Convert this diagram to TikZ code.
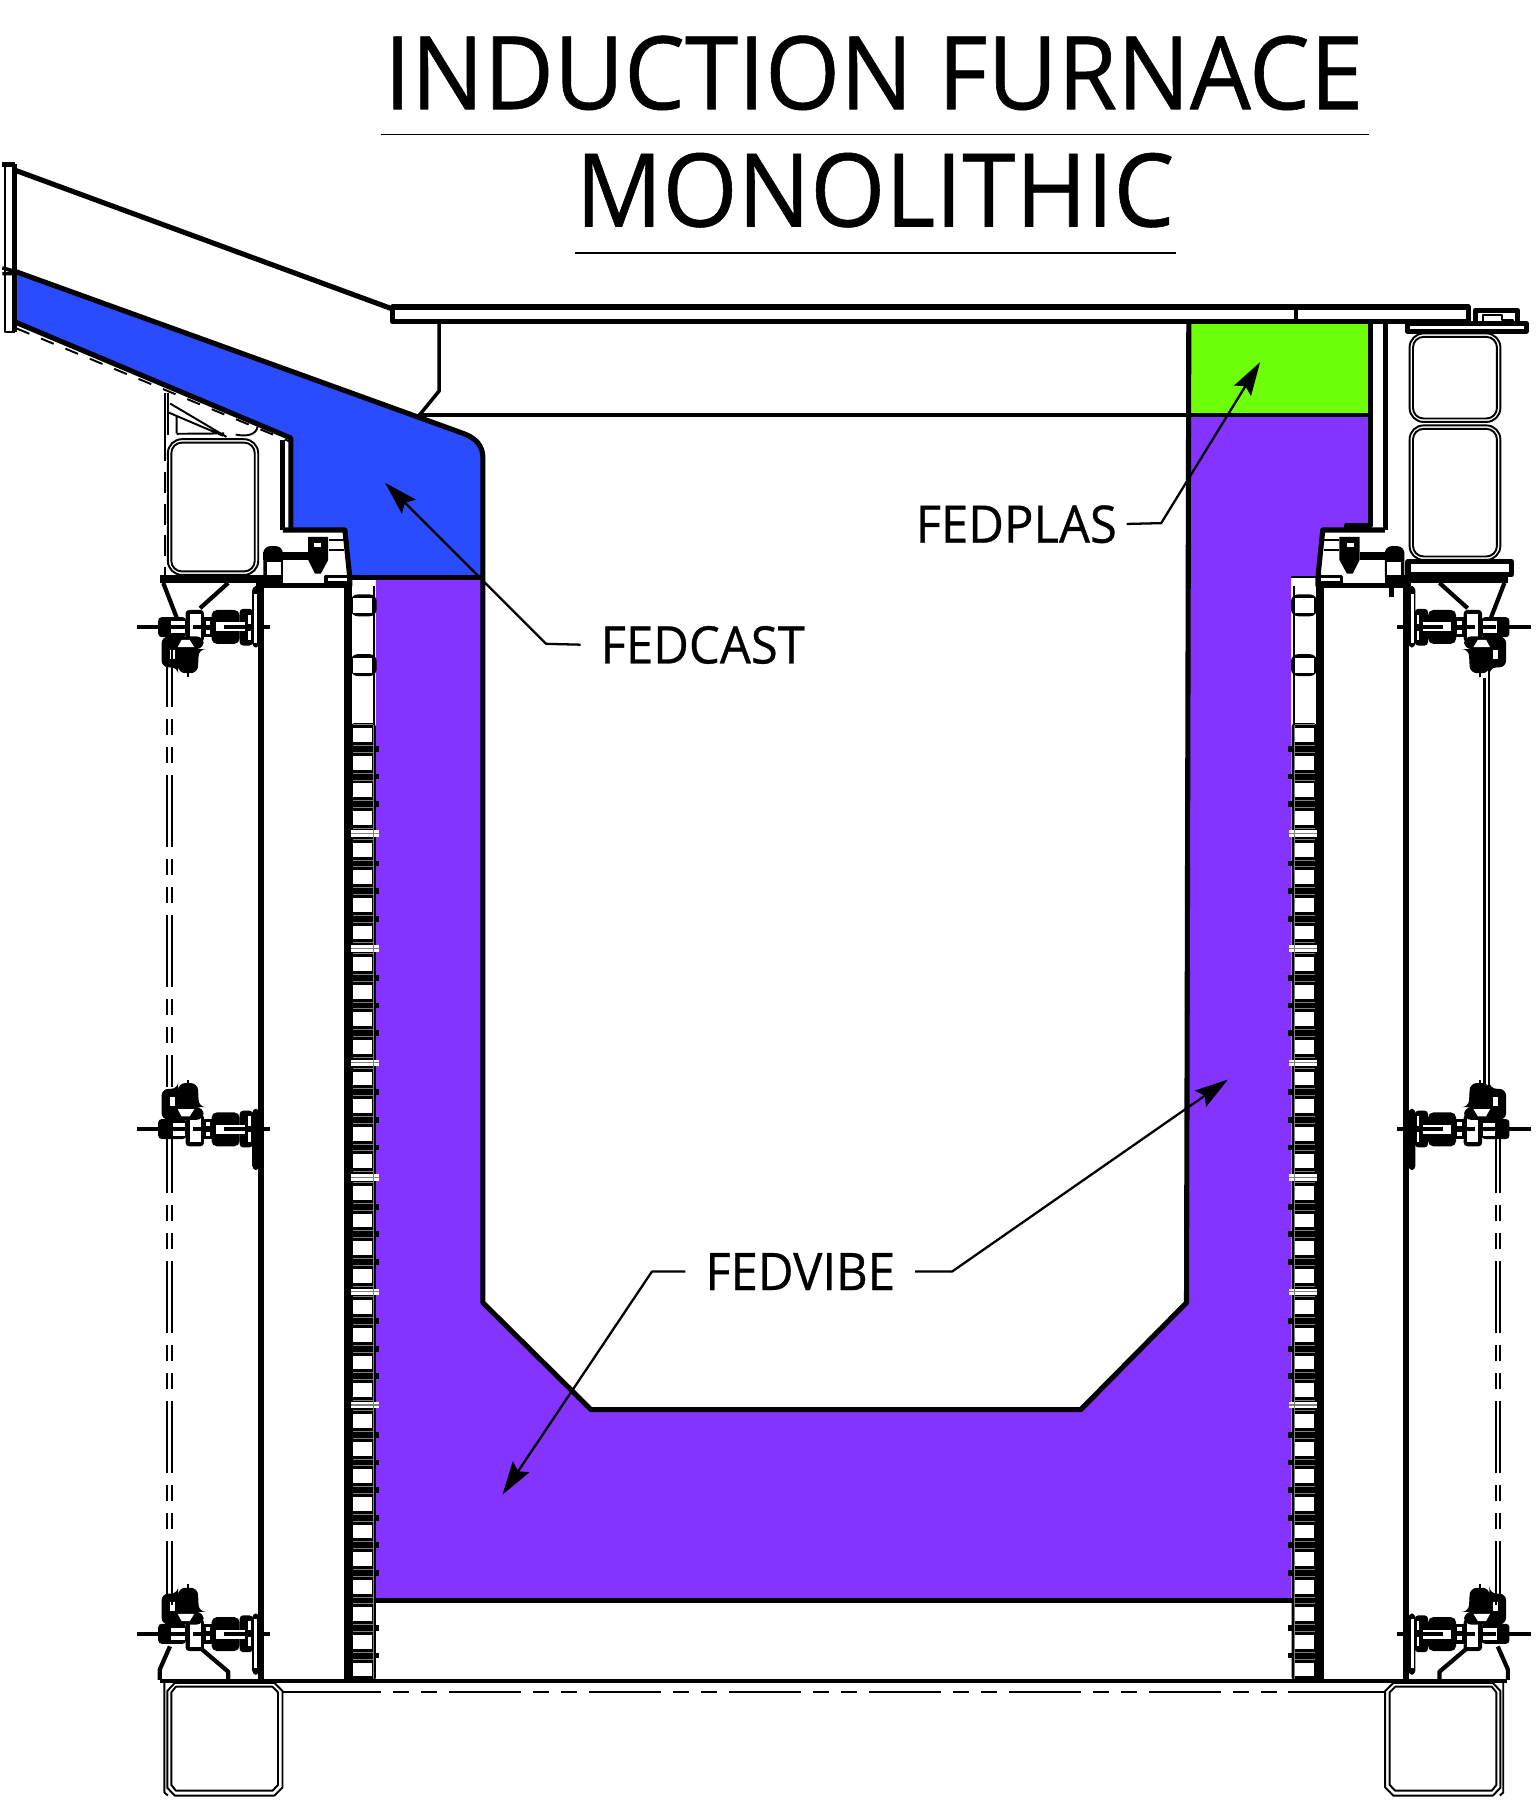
\documentclass[tikz,border=0pt]{standalone}
\usepackage{fontspec}
\setmainfont{Open Sans}[FakeStretch=0.948,FakeBold=0.55]
\usetikzlibrary{arrows.meta}
\definecolor{castblue}{HTML}{2B4BFF}
\definecolor{vibepurple}{HTML}{8533FF}
\definecolor{plasgreen}{HTML}{6EFF0A}
\newcommand{\coilcell}[2]{
  \fill[white] (307.3,#1) rectangle (323.8,#1+12);
  \draw[gray,line width=0.25pt] (307,#1-3) -- (324,#1-3) (307,#1+15) -- (324,#1+15);
  \ifnum#2>0 \fill (326,#1+15.5) rectangle (330,#1+20.5); \fi
}
\tikzset{
  heavy/.style={line width=1.45pt},
  medium/.style={line width=1pt},
  fine/.style={line width=0.55pt},
  leader/.style={line width=0.65pt},
  tipline/.style={leader,-{Stealth[length=9.5pt,width=5.6pt,inset=1.5pt]}},
  titletext/.style={font=\fontsize{28.9}{30}\selectfont,inner sep=0pt,anchor=base},
  labeltext/.style={font=\fontsize{14.7}{16}\selectfont,inner ysep=0pt,inner xsep=5.5pt,text depth=0pt},
  framedash/.style={fine,dash pattern=on 20.4pt off 3.4pt on 4.6pt off 3.4pt on 4.6pt off 3.4pt},
  clampunit/.pic={
    \draw[medium] (-109,0) -- (7,0);
    \draw[fill=black,rounded corners=1pt] (-8,-17) rectangle (-3,35);
    \fill[rounded corners=1pt] (-90.4,-8.7) rectangle (-66,8.7);
    \fill[rounded corners=1pt] (-66.6,-13) rectangle (-50.6,15);
    \fill (-51,-8.7) rectangle (-43,8.7);
    \fill[rounded corners=1.5pt] (-44,-14.5) rectangle (-19.6,15);
    \fill[rounded corners=1pt] (-19.6,-16) rectangle (-8,16);
    \fill[white] (-79.3,-5.2) rectangle (-67,5.8);
    \fill[white] (-62.8,-10) rectangle (-53.5,11.6);
    \fill[white] (-49,-5.8) rectangle (-45,-2.3);
    \fill[white] (-49,2.3) rectangle (-45,5.8);
    \fill[white] (-39.7,-3.5) rectangle (-15,4.3);
    \fill[white] (-12,-11) rectangle (-10,-3);
    \fill[white] (-12,3) rectangle (-10,11);
    \draw[medium] (-79,0) -- (-67,0) (-60,0) -- (-53,0) (-33,0) -- (-13,0);
    \fill[rounded corners=2pt] (-87.5,-8) -- (-87.5,-35) -- (-73,-35) -- (-73,-40) -- (-56,-40) -- (-55,-19) -- (-51,-19) -- (-51,-8) -- cycle;
    \fill (-65.5,-43) rectangle (-64,-38);
    \fill[white] (-80,-27.5) rectangle (-76,-20);
    \fill[white] (-73.5,-17.4) -- (-59,-17.4) -- (-63,-11) -- (-70,-11) -- cycle;
  },
  topbolt/.pic={
    \draw[heavy] (246,461) -- (300,461) -- (304.3,503) -- (304.3,510);
    \fill (268,467) -- (285.5,467) -- (285.5,487) -- (279,499) -- (274,499) -- (268,487) -- cycle;
    \fill[white] (273,472) rectangle (279,476);
    \draw[fine] (286,469.5) -- (299,469.5) (286,478) -- (299,478);
    \fill (229,480) rectangle (268,487);
    \fill[rounded corners=2pt] (229,475) rectangle (246,507);
    \fill[white] (232,488.4) rectangle (244,500);
    \fill (139,500) rectangle (246,507);
    \fill (223,507) rectangle (305,511);
    \draw[medium] (283.5,501.5) rectangle (303,507);
    \draw[line width=1.2pt] (142,507) -- (153.6,537) (198.5,507) -- (174,529);
  },
  baseunit/.pic={
    \draw[line width=1.2pt] (139,1461) -- (139,1452) -- (147.8,1432) (198.5,1461) -- (198.5,1454) -- (175,1434);
    \draw[fine] (143,1463) -- (143,1559) -- (146,1561.7);
    \draw[fine] (152,1463.8) -- (238.7,1463.8) -- (245.7,1470.8) -- (245.7,1554.7) -- (238.7,1561.7) -- (152,1561.7) -- (145.5,1555) -- (145.5,1470.8) -- cycle;
    \draw[fine] (153,1467) -- (237,1467) -- (241.8,1472) -- (241.8,1552.5) -- (237,1557.5) -- (153,1557.5) -- (149,1552.5) -- (149,1472) -- cycle;
  },
  coilcolumn/.pic={
    \fill (299,507) rectangle (306,1462);
    \draw[fine] (325.3,510) -- (325.3,630);
    \fill[rounded corners=2pt] (305,517) rectangle (327.6,536);
    \fill[rounded corners=2pt] (305,569) rectangle (327.6,588);
    \fill[white] (307.3,520.3) rectangle (323.8,533.4);
    \fill[white] (307.3,572.5) rectangle (323.8,585.6);
    \fill[rounded corners=1pt] (305,629) rectangle (327,1462);
    \foreach \g in {633.4,733,832.5,932,1031.5,1131} {
      \foreach \k in {0,1,2,3} {
        \pgfmathsetmacro\celly{\g+24*\k}
        \pgfmathtruncatemacro\celltab{3-\k}
        \coilcell{\celly}{\celltab}
      }
    }
    \foreach \k in {0,...,9} {
      \pgfmathsetmacro\celly{1230+24*\k}
      \pgfmathtruncatemacro\celltab{9-\k}
      \coilcell{\celly}{\celltab}
    }
    \foreach \b in {725,825,924.5,1024,1123.5,1222} {
      \fill[white] (305,\b-2.8) rectangle (329.5,\b+2.8);
      \draw[gray,line width=0.3pt] (305,\b) -- (329.5,\b);
    }
    \draw[gray,line width=0.25pt] (325,631) -- (325,1460);
  },
}
\begin{document}
\begin{tikzpicture}[line cap=butt,line join=round,x=0.011497cm,y=-0.011497cm]
\useasboundingbox (0,0) rectangle (1336,1565.6);
\fill[castblue] (13,236) -- (403,377) .. controls (414,381) and (420,388) .. (420,398) -- (420,502) -- (304,502) -- (300,461) -- (253,461) -- (253,381) -- (13,280) -- cycle;
\fill[plasgreen] (1034,280) rectangle (1192,361);
\fill[vibepurple] (1034,361) -- (1192,361) -- (1192,457) -- (1150,461) -- (1146,502) -- (1123,502) -- (1123,1392) -- (327,1392) -- (327,502) -- (420,502) -- (420,1133) -- (514,1226) -- (940,1226) -- (1032,1133) -- cycle;
\draw[fine] (4,143) -- (4,289) -- (13,289);
\draw[heavy] (2,143) -- (13,143);
\draw[heavy] (13,143) -- (13,289);
\draw[medium] (2,233) -- (13,236) (2,238) -- (13,238);
\draw[heavy] (13,148) -- (341,268.6);
\draw[heavy] (13,236) -- (403,377) .. controls (414,381) and (420,388) .. (420,398) -- (420,1133) -- (514,1226) -- (940,1226) -- (1032,1133) -- (1034,280);
\draw[heavy] (13,280) -- (253,381) -- (253,461);
\draw[heavy] (246,383) -- (246,461);
\draw[fine,dash pattern=on 3.9pt off 3.6pt] (14.5,285.7) -- (252,384);
\draw[fine] (143.5,342) -- (143.5,383);
\draw[fine,dash pattern=on 6pt off 3pt] (143.5,383) -- (143.5,500);
\draw[fine] (146.4,342) -- (146.4,378);
\draw[fine] (148,351) -- (197,380) (146.4,358.7) -- (194,379) (153.6,377.3) -- (195,377) (153.6,362) -- (153.6,377) (205,378) .. controls (215,380) and (223,378) .. (224,371);
\draw[heavy] (341.5,267) rectangle (1277,280);
\draw[medium] (1127,267) -- (1127,280);
\draw[medium] (382,280) -- (382,340) -- (364,362);
\draw[medium] (364,361) -- (1192,361);
\draw[heavy] (304,502) -- (420,502);
\draw[fine] (1123,502) -- (1146,502);
\draw[heavy] (1192,280) -- (1192,457) -- (1171,457) -- (1171,461);
\draw[heavy] (1205,280) -- (1205,461);
\draw[heavy] (1224,281.5) rectangle (1327.5,288);
\draw[heavy] (1283,281) -- (1283,270) -- (1320,270) -- (1320,281);
\draw[fine] (1290,281) -- (1290,274) -- (1306,274) -- (1306,278) -- (1316,278) -- (1316,281);
\draw[fine,rounded corners=4pt] (146,382) rectangle (224.6,500);
\draw[fine,rounded corners=3pt] (149,385) rectangle (221.6,497);
\draw[fine,rounded corners=4pt] (1226,290) rectangle (1305,367);
\draw[fine,rounded corners=3pt] (1229,293) rectangle (1302,364);
\draw[fine,rounded corners=4pt] (1226,370) rectangle (1305,487);
\draw[fine,rounded corners=3pt] (1229,373) rectangle (1302,484);
\draw[heavy] (1224.6,488.5) rectangle (1314.5,500);
\foreach \s/\o in {1/0,-1/1450.5} {
  \begin{scope}[shift={(\o,0)},xscale=\s]
  \pic[transform shape] {coilcolumn};
  \pic[transform shape] {topbolt};
  \pic[transform shape] {baseunit};
  \draw[line width=1.75pt] (227.3,511) -- (227.3,1462);
  \pic[transform shape,yscale=-1] at (228,545.5) {clampunit};
  \pic[transform shape] at (228,982) {clampunit};
  \pic[transform shape] at (228,1421) {clampunit};
  \fill[white] (220.6,1408) rectangle (223.6,1451);
  \fill[white] (220.6,517) rectangle (223.6,559);
  \draw[framedash] (145.5,975) -- (145.5,1396) (149.2,975) -- (149.2,1396);
  \end{scope}
}
\draw[framedash] (145.5,552.5) -- (145.5,945) (149.2,552.5) -- (149.2,945);
\draw[medium] (1291,590) -- (1291,945);
\draw[fine] (1295,575) -- (1295,945);
\draw[heavy] (1210,500) -- (1210,519);
\draw[line width=1.3pt] (327,1392) -- (1123,1392);
\draw[line width=1.3pt] (139,1462) -- (1311,1462);
\draw[fine] (245,1471.6) -- (269,1471.6) (1120,1471.6) -- (1205,1471.6);
\draw[framedash] (269,1471.6) -- (1120,1471.6);
\node[titletext] (furnacetitle) at (760,95) {INDUCTION FURNACE};
\node[titletext] (monotitle) at (761,197) {MONOLITHIC};
\draw[fine] (331,117) -- (1191,117);
\draw[fine] (500,220) -- (1023,220);
\node[labeltext,anchor=base west] (fedcast) at (505,577) {FEDCAST};
\node[labeltext,anchor=base east,inner xsep=2.6pt] (fedplas) at (980,472) {FEDPLAS};
\node[labeltext,anchor=base] (fedvibe) at (696,1122) {FEDVIBE};
\coordinate (castbend) at (475,560);
\coordinate (casttip) at (335,420);
\coordinate (plasbend) at (1010,455);
\coordinate (plastip) at (1096,315);
\coordinate (vibebendl) at (567,1106);
\coordinate (vibetipl) at (437,1300);
\coordinate (vibebendr) at (828,1106);
\coordinate (vibetipr) at (1068,939);
\draw[tipline] (fedcast.west) -- (castbend) -- (casttip);
\draw[tipline] (fedplas.east) -- (plasbend) -- (plastip);
\draw[tipline] (fedvibe.west) -- (vibebendl) -- (vibetipl);
\draw[tipline] (fedvibe.east) -- (vibebendr) -- (vibetipr);
\end{tikzpicture}
\end{document}
